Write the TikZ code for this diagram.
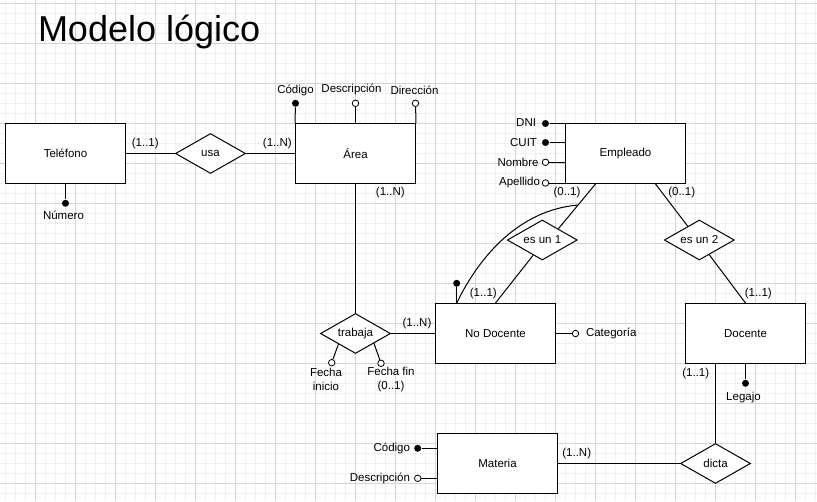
\documentclass[tikz,border=0pt]{standalone}
\usepackage{fontspec}
\setmainfont{Liberation Sans}
\usetikzlibrary{shapes.geometric,calc}
\begin{document}
\begin{tikzpicture}[x=1pt,y=-1pt,
  font=\fontsize{11.5}{14}\selectfont,
  every path/.style={line width=1pt},
  entity/.style={draw, rectangle, minimum width=120pt, minimum height=60pt, fill=white, inner sep=0},
  rel/.style={draw, diamond, minimum width=70pt, minimum height=40pt, aspect=1.75, inner sep=0, fill=white},
  keyattr/.style={circle, fill=black, inner sep=0, minimum size=7pt},
  optattr/.style={circle, draw, fill=white, inner sep=0, minimum size=6.5pt, line width=0.8pt},
  txt/.style={inner sep=0},
  minorgrid/.style={draw=black!6, line width=0.8pt},
  majorgrid/.style={draw=black!17, line width=0.8pt}]
\useasboundingbox (0,0) rectangle (817,501);
\fill[white] (0,0) rectangle (817,501);
% grid
\foreach \i in {0,...,81} \draw[minorgrid] (5.5+10*\i,0) -- (5.5+10*\i,501);
\foreach \j in {0,...,50} \draw[minorgrid] (0,3.5+10*\j) -- (817,3.5+10*\j);
\foreach \i in {0,...,20} \draw[majorgrid] (-4.5+40*\i,0) -- (-4.5+40*\i,501);
\foreach \j in {0,...,12} \draw[majorgrid] (0,3.5+40*\j) -- (817,3.5+40*\j);

% title
\node[txt, anchor=base west, font=\fontsize{36}{40}\selectfont] (title) at (37.5,41.5) {Modelo lógico};

% entities
\node[entity] (tel) at (65.5,153.5) {Teléfono};
\node[entity] (area) at (355.5,153.5) {Área};
\node[entity] (empl) at (625.5,153.5) {Empleado};
\node[entity] (nd) at (495.5,333.5) {No Docente};
\node[entity] (doc) at (745.5,333.5) {Docente};
\node[entity] (mat) at (497.5,463.5) {Materia};

% relationships
\node[rel] (usa) at (210.5,153.5) {usa};
\node[rel] (trab) at (355.5,333.5) {trabaja};
\node[rel] (esun1) at (542.3,240) {es un 1};
\node[rel] (esun2) at (699.3,240) {es un 2};
\node[rel] (dicta) at (715.5,463.5) {dicta};

% Teléfono attribute
\node[keyattr] (num) at (65.5,203.3) {};
\node[txt] (numt) at (63.5,215) {Número};
\draw (tel.south) -- (num);

% Área attributes
\node[keyattr] (acod) at (295.5,103.3) {};
\node[optattr] (adesc) at (355.5,103.3) {};
\node[optattr] (adir) at (415.5,103.3) {};
\draw (acod) -- (area.north west);
\draw (adesc) -- (area.north);
\draw (adir) -- (area.north east);
\node[txt] (acodt) at (295.5,90) {Código};
\node[txt] (adesct) at (351.5,89) {Descripción};
\node[txt] (adirt) at (414.5,90) {Dirección};

% Empleado attributes
\node[keyattr] (dni) at (545.5,123.5) {};
\node[keyattr] (cuit) at (545.5,142.5) {};
\node[optattr] (nom) at (545.5,162.3) {};
\node[optattr] (ape) at (545.5,183) {};
\draw (dni) -- (dni -| empl.west);
\draw (cuit) -- (cuit -| empl.west);
\draw (nom) -- (nom -| empl.west);
\draw (ape) -- (ape -| empl.west);
\node[txt, anchor=east] (dnit) at (536.5,123) {DNI};
\node[txt, anchor=east] (cuitt) at (537.5,142.5) {CUIT};
\node[txt, anchor=east] (nomt) at (539,162) {Nombre};
\node[txt, anchor=east] (apet) at (540.5,183) {Apellido};

% No Docente attributes
\node[keyattr] (nddot) at (456.7,283.3) {};
\draw (nddot) -- (nddot |- nd.north);
\node[optattr] (cat) at (575.5,333.5) {};
\draw (nd.east) -- (cat);
\node[txt, anchor=west] (catt) at (585.5,333.5) {Categoría};

% Docente attribute
\node[keyattr] (leg) at (745.5,383.3) {};
\draw (doc.south) -- (leg);
\node[txt] (legt) at (743.5,397.7) {Legajo};

% Materia attributes
\node[keyattr] (mcod) at (417.7,448.3) {};
\node[optattr] (mdesc) at (417.7,478.3) {};
\draw (mcod) -- (mcod -| mat.west);
\draw (mdesc) -- (mdesc -| mat.west);
\node[txt, anchor=east] (mcodt) at (410.5,448) {Código};
\node[txt, anchor=east] (mdesct) at (410.5,478) {Descripción};

% trabaja attributes
\node[optattr] (fini) at (331.7,362.7) {};
\node[optattr] (ffin) at (381,363.3) {};
\draw (trab.212) -- (fini);
\draw (trab.332) -- (ffin);
\node[txt, align=center] (finit) at (326,379.5) {Fecha\\inicio};
\node[txt, align=center] (ffint) at (391,379.5) {Fecha fin\\(0..1)};

% connectors
\draw (tel.east) -- (usa.west);
\draw (usa.east) -- (area.west);
\draw (area.south) -- (trab.north);
\draw (trab.east) -- (nd.west);
\coordinate (e1) at ($(empl.south)+(-30,0)$);
\coordinate (e2) at ($(empl.south)+(30,0)$);
\draw (e1) -- (esun1.35);
\draw (esun1.239) -- (nd.north);
\draw (e2) -- (esun2.130);
\draw (esun2.304) -- (doc.north);
\draw (dicta.north |- doc.south) -- (dicta.north);
\draw (mat.east) -- (dicta.west);
\coordinate (arcend) at ($(e1)!0.47!(esun1.35)$);
\draw (nddot |- nd.north) .. controls (480,255) and (520,210) .. (arcend);

% cardinalities
\node[txt] (c1) at (145.3,143.3) {(1..1)};
\node[txt] (c2) at (277.3,143.3) {(1..N)};
\node[txt] (c3) at (390.3,192.3) {(1..N)};
\node[txt] (c4) at (567,192.7) {(0..1)};
\node[txt] (c5) at (681.7,193) {(0..1)};
\node[txt] (c6) at (483.3,293.3) {(1..1)};
\node[txt] (c7) at (417,323.3) {(1..N)};
\node[txt] (c8) at (758.3,293.3) {(1..1)};
\node[txt] (c9) at (695.7,373.3) {(1..1)};
\node[txt] (c10) at (576.7,453.3) {(1..N)};
\end{tikzpicture}
\end{document}
